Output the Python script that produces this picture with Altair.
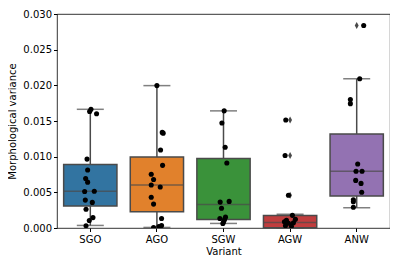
import altair as alt
import pandas as pd

categories = ["SGO", "AGO", "SGW", "AGW", "ANW"]
box_colors = ["#3274a1", "#e1812c", "#3a923a", "#c03d3e", "#9372b2"]

# box statistics
q1 = [0.00308, 0.00229, 0.00119, 0.00002, 0.00450]
median = [0.00515, 0.00602, 0.00331, 0.00077, 0.00795]
q3 = [0.00891, 0.00994, 0.00974, 0.00176, 0.01319]
whisker_lo = [0.00036, 0.00008, 0.00064, 0.00000, 0.00284]
whisker_hi = [0.01664, 0.01996, 0.01642, 0.00193, 0.02092]

# outliers (diamonds)
outlier_variant = ["AGW", "AGW", "AGW", "ANW"]
outlier_value = [0.01513, 0.01016, 0.00460, 0.02838]

# strip points: values and horizontal jitter (in category units)
sgo_vals = [0.01664, 0.01633, 0.01601, 0.00966, 0.00814, 0.00694, 0.00643, 0.00511,
            0.00515, 0.00391, 0.00359, 0.00262, 0.00146, 0.00105, 0.00032]
sgo_jit = [0.01, -0.01, 0.094, -0.049, -0.04, -0.07, -0.04, -0.085,
           0.06, -0.075, 0.03, -0.064, 0.04, -0.015, -0.064]
ago_vals = [0.01996, 0.01340, 0.01330, 0.01094, 0.00878, 0.00753, 0.00680, 0.00602,
            0.00574, 0.00432, 0.00335, 0.00133, 0.00036, 0.00022, 0.00008]
ago_jit = [0.0, 0.08, 0.094, 0.055, 0.085, -0.085, -0.05, -0.085,
           0.05, -0.085, -0.05, 0.07, 0.07, 0.03, -0.05]
sgw_vals = [0.01642, 0.01471, 0.01132, 0.00911, 0.00363, 0.00373, 0.00276, 0.00133,
            0.00152, 0.00115, 0.00083, 0.00064]
sgw_jit = [0.01, -0.024, 0.025, 0.05, -0.05, 0.085, -0.03, -0.054,
           0.03, 0.015, 0.0, -0.01]
agw_vals = [0.01513, 0.01016, 0.00460, 0.00177, 0.00121, 0.00108, 0.00087, 0.00066,
            0.00073, 0.00032, 0.00025]
agw_jit = [-0.065, -0.075, -0.025, 0.035, 0.08, -0.055, -0.085, -0.025,
           0.05, -0.07, 0.02]
anw_vals = [0.02838, 0.02092, 0.01802, 0.01743, 0.00897, 0.00795, 0.00795, 0.00667,
            0.00625, 0.00501, 0.00395, 0.00367, 0.00290]
anw_jit = [0.105, 0.045, -0.095, -0.095, 0.015, -0.01, 0.08, -0.015,
           0.065, 0.075, -0.05, -0.05, -0.05]

box_df = pd.DataFrame({"Variant": categories, "q1": q1, "med": median, "q3": q3,
                       "lo": whisker_lo, "hi": whisker_hi})
out_df = pd.DataFrame({"Variant": outlier_variant, "value": outlier_value})
pts = []
for cat, vals, jit in [("SGO", sgo_vals, sgo_jit), ("AGO", ago_vals, ago_jit),
                       ("SGW", sgw_vals, sgw_jit), ("AGW", agw_vals, agw_jit),
                       ("ANW", anw_vals, anw_jit)]:
    for v, j in zip(vals, jit):
        pts.append({"Variant": cat, "value": v, "jitter": j})
pts_df = pd.DataFrame(pts)

FONT = "DejaVu Sans"
LINE = "#4a4a4a"
W, H = 333, 214

xscale = alt.Scale(type="band", domain=categories, paddingInner=0, paddingOuter=0)
xaxis = alt.Axis(title="Variant", labelAngle=0, domain=False, grid=False, tickSize=3.5,
                 tickColor="black", labelFont=FONT, labelFontSize=10, labelColor="black",
                 titleFont=FONT, titleFontSize=10, titleFontWeight="normal",
                 titleColor="black", labelPadding=2.5, titlePadding=2)
yscale = alt.Scale(domain=[0, 0.03], nice=False, zero=True)
yaxis = alt.Axis(title="Morphological variance", format=".3f",
                 values=[0, 0.005, 0.01, 0.015, 0.02, 0.025, 0.03],
                 domain=False, grid=False, tickSize=3.5, tickColor="black",
                 labelFont=FONT, labelFontSize=10, labelColor="black", labelPadding=2,
                 titleFont=FONT, titleFontSize=10, titleFontWeight="normal",
                 titleColor="black", titlePadding=5)

X = alt.X("Variant:N", sort=categories, scale=xscale, axis=xaxis)

base = alt.Chart(box_df)
whisk_lo = base.mark_rule(color=LINE, strokeWidth=1.5).encode(
    x=X, y=alt.Y("lo:Q", scale=yscale, axis=yaxis), y2="q1:Q")
whisk_hi = base.mark_rule(color=LINE, strokeWidth=1.5).encode(
    x=X, y=alt.Y("q3:Q", scale=yscale, axis=yaxis), y2="hi:Q")
boxes = base.mark_bar(width=W / 5 * 0.8, stroke=LINE, strokeWidth=1.5,
                      opacity=1).encode(
    x=X, y=alt.Y("q1:Q", scale=yscale, axis=yaxis), y2="q3:Q",
    color=alt.Color("Variant:N", scale=alt.Scale(domain=categories, range=box_colors),
                    legend=None))
med = base.mark_tick(color=LINE, size=W / 5 * 0.8, thickness=1.5).encode(
    x=X, y=alt.Y("med:Q", scale=yscale, axis=yaxis))
cap_lo = base.mark_tick(color=LINE, size=27, thickness=1.5).encode(
    x=X, y=alt.Y("lo:Q", scale=yscale, axis=yaxis))
cap_hi = base.mark_tick(color=LINE, size=27, thickness=1.5).encode(
    x=X, y=alt.Y("hi:Q", scale=yscale, axis=yaxis))
outl = alt.Chart(out_df).mark_point(shape="M0,-1L0.55,0L0,1L-0.55,0Z", filled=True,
                                    size=49, color=LINE, opacity=1).encode(
    x=X, y=alt.Y("value:Q", scale=yscale, axis=yaxis))
dots = alt.Chart(pts_df).mark_circle(size=26, color="black", opacity=1, clip=True).encode(
    x=X,
    xOffset=alt.XOffset("jitter:Q", scale=alt.Scale(domain=[-0.5, 0.5])),
    y=alt.Y("value:Q", scale=yscale, axis=yaxis))

chart = alt.layer(whisk_lo, whisk_hi, boxes, med, cap_lo, cap_hi, outl, dots).properties(
    width=W, height=H,
    autosize=alt.AutoSizeParams(type="none"),
    padding={"left": 49, "top": 6, "right": 0, "bottom": 30},
).configure(
    background="white",
    view=alt.ViewConfig(stroke="black", strokeWidth=0.8),
)

chart.save("out.html", embed_options={"renderer": "svg", "actions": False})
